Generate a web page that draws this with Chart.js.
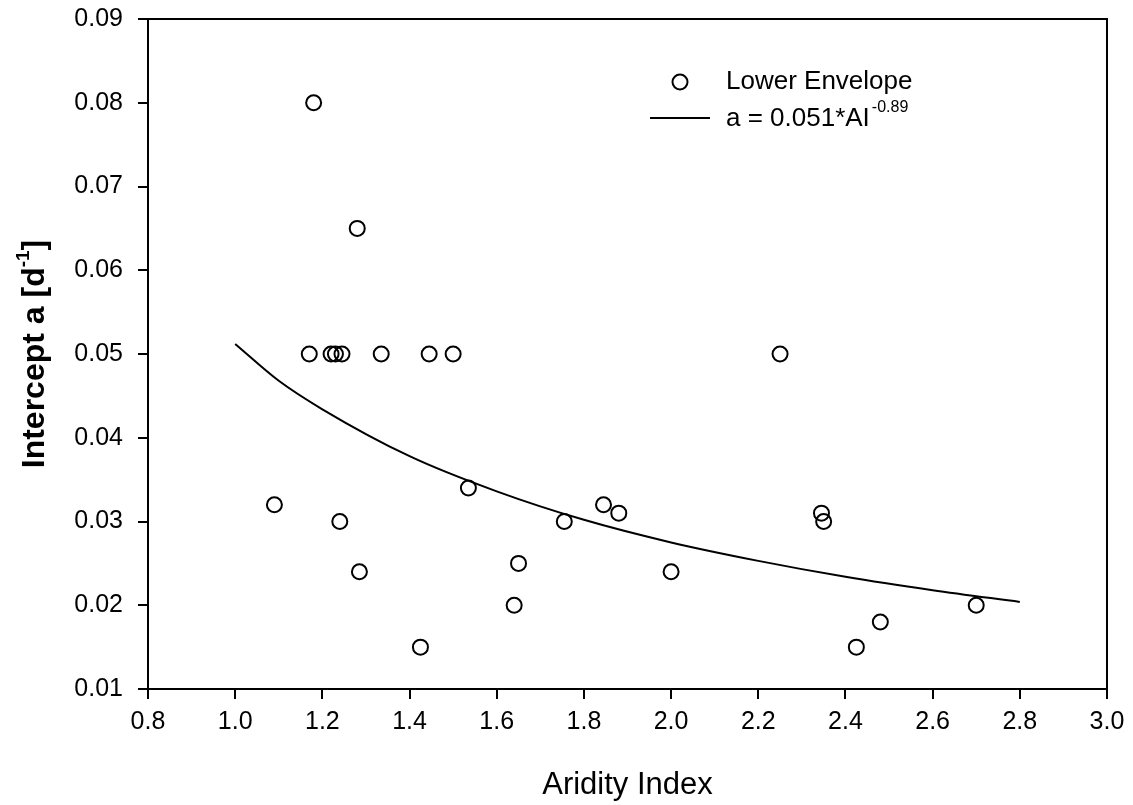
<!DOCTYPE html>
<html>
<head>
<meta charset="utf-8">
<script src="https://cdn.jsdelivr.net/npm/chart.js@4.4.1/dist/chart.umd.min.js"></script>
<style>
    html, body { margin: 0; padding: 0; background: #fff; }
    canvas { display: block; }
</style>
</head>
<body>
<canvas id="chart" width="1133" height="805"></canvas>
<script>
// Lower envelope intercepts vs. aridity index
const aridity = [1.18, 1.28, 1.17, 1.22, 1.23, 1.245, 1.335, 1.445, 1.50, 1.09, 1.24, 1.285, 1.425,
                 1.535, 1.65, 1.64, 1.755, 1.845, 1.88, 2.00, 2.25, 2.345, 2.35, 2.425, 2.48, 2.70];
const intercept = [0.080, 0.065, 0.050, 0.050, 0.050, 0.050, 0.050, 0.050, 0.050, 0.032, 0.030, 0.024, 0.015,
                   0.034, 0.025, 0.020, 0.030, 0.032, 0.031, 0.024, 0.050, 0.031, 0.030, 0.015, 0.018, 0.020];

// Power-law fit a = 0.051*AI^-0.89, sampled along the drawn curve
const fitX = [1.0, 1.1, 1.2, 1.4, 1.6, 1.8, 2.0, 2.2, 2.4, 2.6, 2.8];
const fitY = [0.0512, 0.0468, 0.0434, 0.0378, 0.0336, 0.0302, 0.0275, 0.0253, 0.0234, 0.0218, 0.0204];

// Axis ticks
const xTicks = [0.8, 1.0, 1.2, 1.4, 1.6, 1.8, 2.0, 2.2, 2.4, 2.6, 2.8, 3.0];
const yTicks = [0.01, 0.02, 0.03, 0.04, 0.05, 0.06, 0.07, 0.08, 0.09];

const FONT = "'Liberation Sans', Arial, sans-serif";

// Closes the box: top and right frame lines
const framePlugin = {
    id: 'frame',
    afterDraw(chart) {
        const { ctx, chartArea: a } = chart;
        ctx.save();
        ctx.strokeStyle = '#000';
        ctx.lineWidth = 2;
        ctx.beginPath();
        ctx.moveTo(a.left, a.top);
        ctx.lineTo(a.right, a.top);
        ctx.lineTo(a.right, a.bottom);
        ctx.stroke();
        ctx.restore();
    }
};

// Y axis title with superscript unit
const yTitlePlugin = {
    id: 'yTitle',
    afterDraw(chart) {
        const { ctx, chartArea: a } = chart;
        const main = 'Intercept a [d', sup = '-1', close = ']';
        ctx.save();
        ctx.translate(35, (a.top + a.bottom) / 2);
        ctx.rotate(-Math.PI / 2);
        ctx.fillStyle = '#000';
        ctx.textBaseline = 'middle';
        ctx.font = `bold 32px ${FONT}`;
        const w1 = ctx.measureText(main).width;
        const w3 = ctx.measureText(close).width;
        ctx.font = `bold 19px ${FONT}`;
        const w2 = ctx.measureText(sup).width;
        let x = -(w1 + w2 + w3) / 2;
        ctx.font = `bold 32px ${FONT}`;
        ctx.fillText(main, x, 0);
        x += w1;
        ctx.font = `bold 19px ${FONT}`;
        ctx.fillText(sup, x, -11);
        x += w2;
        ctx.font = `bold 32px ${FONT}`;
        ctx.fillText(close, x, 0);
        ctx.restore();
    }
};

// Legend inside the plot area
const legendPlugin = {
    id: 'innerLegend',
    afterDraw(chart) {
        const { ctx } = chart;
        ctx.save();
        ctx.strokeStyle = '#000';
        ctx.fillStyle = '#000';
        ctx.lineWidth = 2;
        ctx.beginPath();
        ctx.arc(680, 82, 7.5, 0, Math.PI * 2);
        ctx.stroke();
        ctx.beginPath();
        ctx.moveTo(650, 118);
        ctx.lineTo(710, 118);
        ctx.stroke();
        ctx.textBaseline = 'middle';
        ctx.font = `26px ${FONT}`;
        ctx.fillText('Lower Envelope', 726, 82);
        const eq = 'a = 0.051*AI';
        ctx.fillText(eq, 726, 119);
        const w = ctx.measureText(eq).width;
        ctx.font = `16px ${FONT}`;
        ctx.fillText('-0.89', 726 + w + 2, 108);
        ctx.restore();
    }
};

const axisGrid = { drawOnChartArea: false, drawTicks: true, tickLength: 10, color: '#000', lineWidth: 2 };

new Chart(document.getElementById('chart'), {
    type: 'scatter',
    data: {
        datasets: [
            {
                label: 'Lower Envelope',
                data: aridity.map((x, i) => ({ x, y: intercept[i] })),
                pointRadius: 7.5,
                pointHoverRadius: 7.5,
                pointBorderWidth: 2,
                borderColor: '#000',
                backgroundColor: 'rgba(0,0,0,0)',
                showLine: false
            },
            {
                label: 'a = 0.051*AI^-0.89',
                type: 'line',
                data: fitX.map((x, i) => ({ x, y: fitY[i] })),
                borderColor: '#000',
                borderWidth: 2,
                pointRadius: 0,
                fill: false,
                cubicInterpolationMode: 'monotone'
            }
        ]
    },
    options: {
        responsive: false,
        animation: false,
        layout: { padding: { top: 19, right: 26, left: 0, bottom: 0 } },
        plugins: { legend: { display: false }, tooltip: { enabled: false } },
        scales: {
            x: {
                type: 'linear',
                min: 0.8,
                max: 3.0,
                afterBuildTicks: s => { s.ticks = xTicks.map(v => ({ value: v })); },
                afterFit: s => { s.height = 116; },
                grid: axisGrid,
                border: { color: '#000', width: 2 },
                ticks: {
                    padding: 8,
                    color: '#000',
                    font: { family: FONT, size: 25 },
                    maxRotation: 0,
                    callback: v => v.toFixed(1)
                },
                title: {
                    display: true,
                    text: 'Aridity Index',
                    color: '#000',
                    font: { family: FONT, size: 31 },
                    padding: { top: 0, bottom: 1 }
                }
            },
            y: {
                type: 'linear',
                min: 0.01,
                max: 0.09,
                afterBuildTicks: s => { s.ticks = yTicks.map(v => ({ value: v })); },
                afterFit: s => { s.width = 148; s.paddingTop = 0; s.paddingBottom = 0; },
                grid: axisGrid,
                border: { color: '#000', width: 2 },
                ticks: {
                    padding: 15,
                    color: '#000',
                    font: { family: FONT, size: 25 },
                    callback: v => v.toFixed(2)
                }
            }
        }
    },
    plugins: [framePlugin, yTitlePlugin, legendPlugin]
});
</script>
</body>
</html>
